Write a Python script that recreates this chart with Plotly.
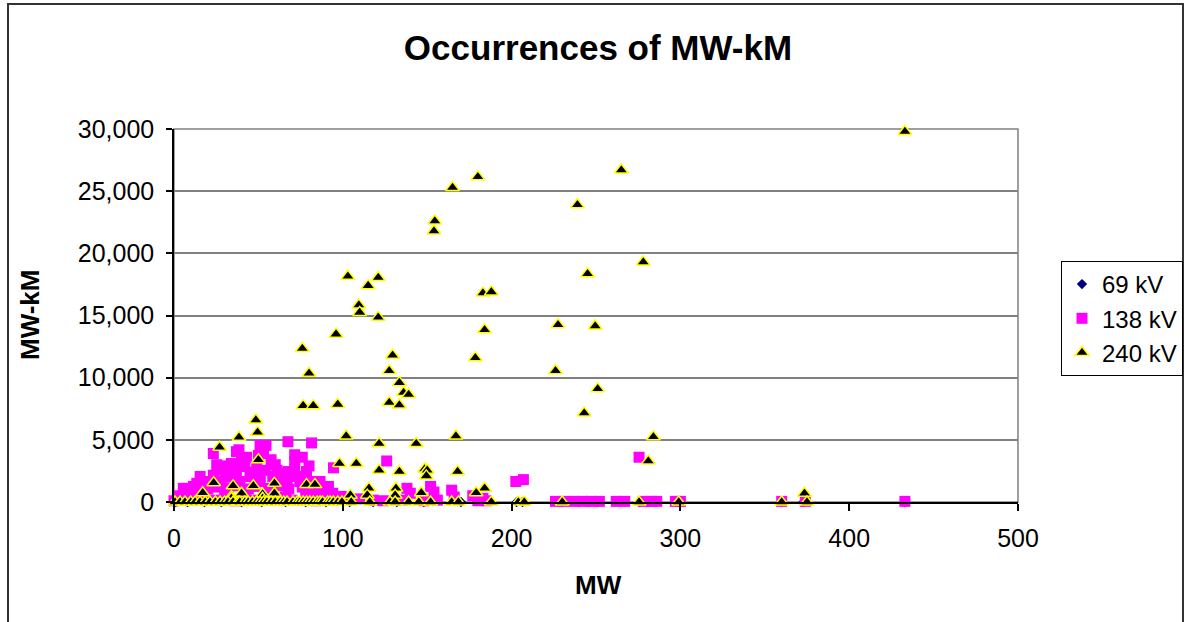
import plotly.graph_objects as go

# ---------------- data ----------------
mw_69 = [1, 8, 18, 28, 40, 52, 66, 78, 90, 104, 118, 132, 148, 170, 203, 206.5,
         230, 240, 246, 251, 276, 282, 299, 360, 373, 433]
val_69 = [0] * len(mw_69)

mw_138 = [23.3, 37, 38.5, 51, 54.5, 53, 67.5, 81.5, 50, 57.5, 71.5, 71.5, 71.5, 40, 42,
          25.3, 36, 28, 34, 49, 54, 61, 67.5, 78.5, 94.5, 15.5, 23.3, 31, 37, 45, 51,
          58.5, 64.5, 72.5, 78.5, 13.5, 19.5, 27.3, 39, 51, 67, 74.5, 84.5, 86.5, 5.5,
          11.5, 91.5, 86.5, 80, 76, 63, 46, 33, 43, 30, 60,
          2, 8, 14, 20, 26, 32, 38, 44, 48, 56, 62, 68, 76, 82, 88, 94, 99, 18, 30, 42,
          54, 66, 78, 90,
          126, 138, 140, 152, 154, 164.5, 166, 177, 183, 202.5, 207, 275.5,
          0, 6, 12, 24, 36, 46, 58, 70, 84, 96, 103, 110, 118, 124, 135, 148, 156, 180,
          185, 226, 231, 237, 242, 247, 252, 262, 267, 278, 283, 286, 297, 300, 360, 374,
          433]
val_138 = [3900, 4050, 4200, 4550, 4550, 3900, 4850, 4750, 3750, 3400, 3800, 3250, 2550,
           3250, 2850, 3000, 2800, 2550, 3100, 2700, 2550, 2550, 2450, 2450, 2750, 2050,
           2150, 2050, 2050, 2050, 2050, 2050, 1950, 2050, 2000, 1500, 1650, 1650, 1650,
           1650, 1650, 1650, 1650, 1650, 1100, 1250, 1250, 550, 2900, 3600, 2300, 2400,
           2300, 3600, 2900, 3000,
           500, 800, 950, 1050, 1200, 1150, 1300, 1050, 1250, 1100, 1300, 1050, 1200, 900,
           1000, 700, 450, 400, 500, 400, 500, 400, 500, 350,
           3300, 1100, 700, 1250, 800, 950, 400, 500, 300, 1650, 1800, 3600,
           100, 150, 120, 150, 100, 150, 120, 150, 100, 150, 200, 250, 150, 100, 150, 100,
           150, 100, 100, 50, 50, 50, 50, 50, 50, 50, 50, 50, 50, 50, 50, 50, 50, 50, 50]

mw_240 = [433, 265, 180, 165, 239, 154.5, 154, 278, 245, 103, 121, 115, 183, 188, 109.5,
          110, 121, 227.5, 249.5, 184, 96, 76, 129.5, 178.5, 80, 127.5, 226, 133.5, 136,
          139, 251, 127.5, 133.5, 76.5, 82.5, 97, 243, 48.5, 49.5, 38.5, 102, 167, 284,
          121.5, 143.5, 27, 50, 98, 108, 281, 121.5, 133.5, 148.5, 150, 149.5, 168, 23.5,
          35, 47, 59.5, 78.5, 83.5, 115.5, 131.5, 184, 17, 40, 59.5, 104.5, 114.5, 131,
          146.5, 179, 373.5, 52.5, 34, 34, 52.5,
          0.6, 3.6, 6.5, 9.9, 12.5, 15.4, 18.5, 21.3, 24.5, 27.3, 30, 32, 35, 38, 39, 42,
          44, 46.5, 49, 51, 53, 55, 57.5, 60, 63, 65, 67, 70.5, 73, 74.6, 76.5, 78.6,
          80.5, 82.5, 84.8, 86.5, 88, 91, 92.5, 94.4, 97, 99.5, 105, 116, 128, 131, 139,
          145, 152, 164.5, 168.5, 188, 204, 207.5, 230, 275.5, 299, 360, 375]
val_240 = [29800, 26700, 26150, 25300, 23900, 22600, 21800, 19300, 18350, 18150, 18050,
           17400, 16800, 16900, 15850, 15250, 14850, 14250, 14150, 13850, 13500, 12350,
           11800, 11600, 10350, 10550, 10550, 9600, 8800, 8650, 9100, 8000, 7800, 7750,
           7750, 7850, 7150, 6600, 5600, 5200, 5300, 5300, 5250, 4700, 4700, 4400, 3400,
           3100, 3100, 3300, 2550, 2450, 2650, 2550, 2100, 2450, 1550, 1300, 1300, 1500,
           1400, 1400, 1100, 1100, 1100, 750, 700, 700, 550, 550, 550, 750, 750, 700,
           650, 450, 300, 300,
           0, 0, 0, 0, 0, 0, 0, 0, 0, 0, 0, 0, 0, 0, 0, 0, 0, 0, 0, 0, 0, 0, 0, 0, 0, 0,
           0, 0, 0, 0, 0, 0, 0, 0, 0, 0, 0, 0, 0, 0, 0, 0, 0, 0, 0, 0, 0, 0, 0, 0, 0, 0,
           0, 0, 0, 0, 0, 0, 0, 0]

x_ticks = [0, 100, 200, 300, 400, 500]
y_ticks = [0, 5000, 10000, 15000, 20000, 25000, 30000]

# ---------------- layout geometry ----------------
W, H = 1188, 622
PL, PR, PT, PB = 174, 1018, 129, 502
FONT = "Liberation Sans, Arial, sans-serif"


def px_x(px):
    return (px - PL) / (PR - PL)


def px_y(py):
    return (PB - py) / (PB - PT)


fig = go.Figure()
fig.add_trace(go.Scatter(
    x=mw_69, y=val_69, mode="markers", name="69 kV", legendgroup="a",
    cliponaxis=False,
    marker=dict(symbol="diamond", size=8, color="#000080",
                line=dict(color="#000080", width=0))))
fig.add_trace(go.Scatter(
    x=mw_138, y=val_138, mode="markers", name="138 kV", legendgroup="b",
    cliponaxis=False,
    marker=dict(symbol="square", size=11, color="#FF00FF",
                line=dict(color="#FF00FF", width=0))))
fig.add_trace(go.Scatter(
    x=mw_240, y=val_240, mode="markers", name="240 kV", legendgroup="c",
    cliponaxis=False,
    marker=dict(symbol="triangle-up", size=12, color="#000000",
                line=dict(color="#FFFF00", width=1.5))))

fig.update_layout(
    width=W, height=H,
    margin=dict(l=PL, r=W - PR, t=PT, b=H - PB, pad=0, autoexpand=False),
    paper_bgcolor="white", plot_bgcolor="white",
    font=dict(family=FONT, size=25, color="black"),
    title=dict(text="<b>Occurrences of MW-kM</b>", x=598 / W, xref="container",
               xanchor="center", y=1 - 48 / H, yanchor="middle",
               font=dict(family=FONT, size=35, color="black")),
    showlegend=True,
    legend=dict(x=1061 / W, y=1 - 261 / H, xref="container", yref="container",
                xanchor="left", yanchor="top",
                bgcolor="white", bordercolor="black", borderwidth=1,
                font=dict(family=FONT, size=24, color="black"),
                traceorder="grouped", tracegroupgap=0, itemsizing="trace"),
    xaxis=dict(range=[0, 500], tickvals=x_ticks, ticktext=[str(v) for v in x_ticks],
               showgrid=False, zeroline=False, showline=True, linecolor="black",
               linewidth=1.5, ticks="outside", ticklen=7, tickcolor="black",
               tickwidth=1.5, ticklabelstandoff=6, tickfont=dict(family=FONT, size=25)),
    yaxis=dict(range=[0, 30000], tickvals=y_ticks, tickformat=",d",
               showgrid=True, gridcolor="#808080", gridwidth=1.5, zeroline=False,
               showline=True, linecolor="black", linewidth=1.5, ticks="outside",
               ticklen=6, tickcolor="black", tickwidth=1.5, ticklabelstandoff=7,
               tickfont=dict(family=FONT, size=25)),
    shapes=[
        dict(type="rect", xref="paper", yref="paper", x0=0, x1=1, y0=0, y1=1,
             line=dict(color="#808080", width=1.5), layer="below"),
        dict(type="rect", xref="paper", yref="paper",
             x0=px_x(8), x1=px_x(1183), y0=px_y(640), y1=px_y(4),
             line=dict(color="#333333", width=2), layer="below"),
    ],
    annotations=[
        dict(text="<b>MW</b>", xref="paper", yref="paper", x=px_x(598), y=px_y(585),
             xanchor="center", yanchor="middle", showarrow=False,
             font=dict(family=FONT, size=26, color="black")),
        dict(text="<b>MW-kM</b>", xref="paper", yref="paper", x=px_x(30), y=px_y(315),
             xanchor="center", yanchor="middle", showarrow=False, textangle=-90,
             font=dict(family=FONT, size=26, color="black")),
    ],
)

fig.write_html("out.html")
